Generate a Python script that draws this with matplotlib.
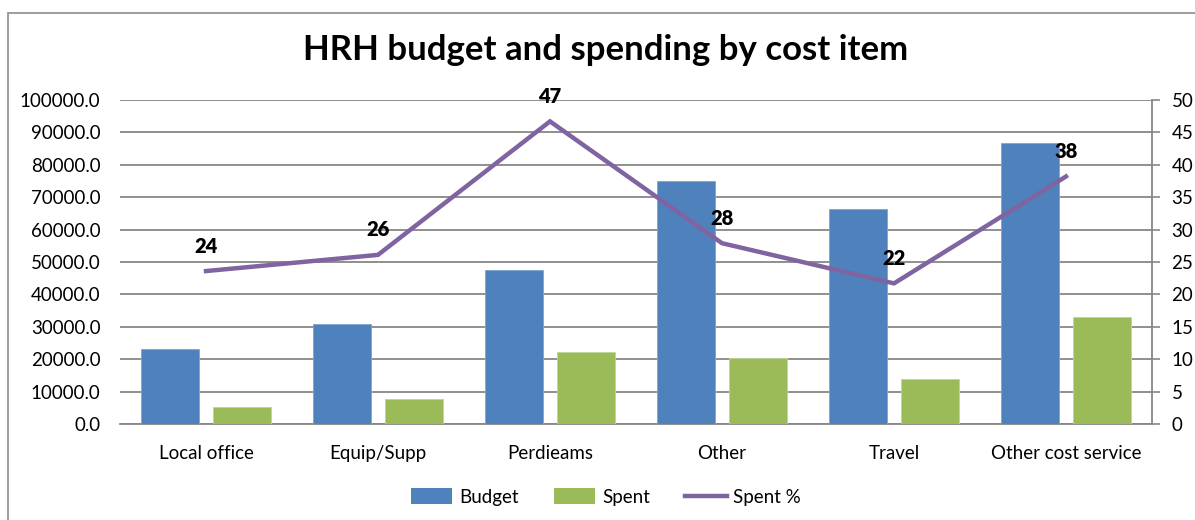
import matplotlib
matplotlib.use("Agg")
import matplotlib.pyplot as plt
from matplotlib.patches import Rectangle, Patch
from matplotlib.lines import Line2D
import numpy as np

categories = ["Local office", "Equip/Supp", "Perdieams", "Other", "Travel", "Other cost service"]
budget = [23300, 31000, 47400, 75000, 66300, 86600]
spent = [5300, 7800, 22300, 20400, 14000, 33000]
spent_pct = [23.6, 26.1, 46.7, 27.9, 21.7, 38.2]
pct_labels = ["24", "26", "47", "28", "22", "38"]
left_ticks = np.arange(0, 100001, 10000)
right_ticks = np.arange(0, 51, 5)

plt.rcParams['font.family'] = ['Lato', 'DejaVu Sans']

W, H = 1195, 520
fig = plt.figure(figsize=(W / 100, H / 100), dpi=100)

# outer chart frame
fig.patches.append(Rectangle((8 / W, -0.05), 1.2, 1 - 13 / H + 0.05, transform=fig.transFigure,
                             fill=False, edgecolor='#8c8c8c', linewidth=1.2, zorder=0))

ax = fig.add_axes([120 / W, 1 - 424 / H, (1152 - 120) / W, (424 - 100) / H])
x = np.arange(len(categories))
bw = 0.337
off = 0.209
blue = '#4f81bd'
green = '#9bbb59'
purple = '#8064a2'
grid_c = '#878787'
fs = 13.5

ax.bar(x - off, budget, bw, color=blue, edgecolor='#7fa3d3', linewidth=0.6, zorder=3)
ax.bar(x + off, spent, bw, color=green, edgecolor='#c0d69a', linewidth=0.6, zorder=3)
ax.set_xlim(-0.5, len(categories) - 0.5)
ax.set_ylim(0, 100000)
ax.set_yticks(left_ticks)
ax.set_yticklabels([f"{v:.1f}" for v in left_ticks], fontsize=fs)
ax.yaxis.grid(True, color=grid_c, linewidth=1.3, zorder=0)
ax.set_axisbelow(True)
ax.tick_params(axis='y', length=0, pad=14)
ax.set_xticks(x)
ax.set_xticklabels(categories, fontsize=fs)
ax.tick_params(axis='x', length=0, pad=15)
for s in ['top', 'left', 'right']:
    ax.spines[s].set_visible(False)
ax.spines['bottom'].set_color(grid_c)
ax.spines['bottom'].set_linewidth(1.3)

ax2 = ax.twinx()
ax2.plot(x, spent_pct, color=purple, linewidth=3.2, solid_joinstyle='miter', zorder=5)
ax2.set_ylim(0, 50)
ax2.set_yticks(right_ticks)
ax2.set_yticklabels([str(v) for v in right_ticks], fontsize=fs)
ax2.tick_params(axis='y', length=6, color=grid_c, width=1.2, pad=8)
for s in ['top', 'left', 'bottom']:
    ax2.spines[s].set_visible(False)
ax2.spines['right'].set_color(grid_c)
ax2.spines['right'].set_linewidth(1.3)
for xi, yi, lab in zip(x, spent_pct, pct_labels):
    ax2.annotate(lab, (xi, yi), xytext=(0, 25), textcoords='offset pixels',
                 ha='center', va='center', fontsize=14.5, fontweight='heavy')

fig.text(606 / W, 1 - 50 / H, "HRH budget and spending by cost item", ha='center', va='center',
         fontsize=25, fontweight='bold')

handles = [Patch(facecolor=blue, label='Budget'),
           Patch(facecolor=green, label='Spent'),
           Line2D([0], [0], color=purple, linewidth=3.2, label='Spent %')]
fig.legend(handles=handles, loc='center', bbox_to_anchor=(606 / W, 1 - 497 / H), ncol=3,
           frameon=False, fontsize=fs, handlelength=2.2, handleheight=0.9,
           handletextpad=0.35, columnspacing=1.9)

fig.savefig("out.png", dpi=100)
